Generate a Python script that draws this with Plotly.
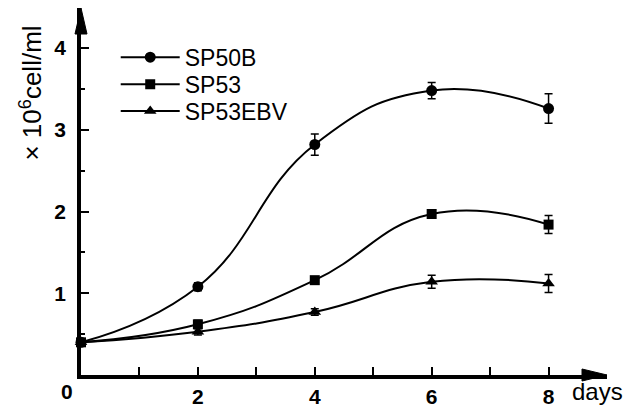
import plotly.graph_objects as go

days = [0, 2, 4, 6, 8]
sp50b = [0.40, 1.08, 2.82, 3.48, 3.26]
sp50b_err = [0.04, 0.05, 0.13, 0.10, 0.18]
sp53 = [0.40, 0.62, 1.16, 1.97, 1.84]
sp53_err = [0.04, 0.05, 0.04, 0.04, 0.11]
sp53ebv = [0.40, 0.53, 0.77, 1.14, 1.12]
sp53ebv_err = [0.04, 0.04, 0.04, 0.08, 0.11]

series = [
    ("SP50B", sp50b, sp50b_err, "circle", 11, "legend", 0.866),
    ("SP53", sp53, sp53_err, "square", 10, "legend2", 0.792),
    ("SP53EBV", sp53ebv, sp53ebv_err, "triangle-up", 11, "legend3", 0.719),
]

FONT = "Liberation Sans, Arial, sans-serif"

fig = go.Figure()
legends = {}
for name, vals, err, sym, size, leg, ly in series:
    fig.add_trace(go.Scatter(
        x=days, y=vals, name=name, mode="lines+markers",
        line=dict(color="black", width=2, shape="spline", smoothing=1.3),
        marker=dict(symbol=sym, size=size, color="black"),
        error_y=dict(type="data", array=err, visible=True, color="black",
                     thickness=1.5, width=4),
        cliponaxis=False, legend=leg,
    ))
    legends[leg] = dict(x=0.066, y=ly, xanchor="left", yanchor="middle",
                        bgcolor="rgba(0,0,0,0)", font=dict(size=23),
                        itemwidth=59, borderwidth=0)

fig.update_layout(
    width=627, height=414,
    margin=dict(l=81, r=20, t=8, b=39),
    paper_bgcolor="white", plot_bgcolor="white",
    font=dict(family=FONT, size=20, color="black"),
    showlegend=True,
    **legends,
)
fig.update_xaxes(
    range=[0, 9], showgrid=False, zeroline=False, automargin=False,
    showline=True, linecolor="black", linewidth=3.5,
    tickmode="array", tickvals=[2, 4, 6, 8], ticktext=["2", "4", "6", "8"],
    ticks="inside", ticklen=8, tickwidth=1.5, tickcolor="black",
    minor=dict(tickvals=[1, 3, 5, 7], ticks="inside", ticklen=8,
               tickwidth=1.5, tickcolor="black"),
    tickfont=dict(size=21, weight="bold"),
)
fig.update_yaxes(
    range=[0, 4.49], showgrid=False, zeroline=False, automargin=False,
    showline=True, linecolor="black", linewidth=3.5,
    tickmode="array", tickvals=[1, 2, 3, 4], ticktext=["1", "2", "3", "4"],
    ticks="inside", ticklen=8, tickwidth=1.5, tickcolor="black",
    minor=dict(tickvals=[0.5, 1.5, 2.5, 3.5], ticks="inside", ticklen=4,
               tickwidth=1.5, tickcolor="black"),
    tickfont=dict(size=21, weight="bold"), ticklabelstandoff=7,
)

# axis arrowheads (decorations, paper-anchored so they are not clipped)
fig.add_shape(type="path", xref="paper", yref="paper", xsizemode="pixel",
              ysizemode="pixel", xanchor=0, yanchor=1,
              path="M-6,-26 L0,0 L6,-26 Z", fillcolor="black",
              line=dict(color="black", width=1))
fig.add_shape(type="path", xref="paper", yref="paper", xsizemode="pixel",
              ysizemode="pixel", xanchor=1, yanchor=0,
              path="M-25,-6 L0,0 L-25,6 Z", fillcolor="black",
              line=dict(color="black", width=1))

fig.add_annotation(x=-0.027, y=-0.044, xref="paper", yref="paper", text="0",
                   xanchor="center", yanchor="middle",
                   showarrow=False, font=dict(size=21, weight="bold"))
fig.add_annotation(x=0.982, y=-0.044, xref="paper", yref="paper", text="days",
                   xanchor="center", yanchor="middle",
                   showarrow=False, font=dict(size=24))
fig.add_annotation(x=-0.095, y=0.767, xref="paper", yref="paper",
                   text="× 10<sup>6</sup>cell/ml", textangle=-90,
                   xanchor="center", yanchor="middle",
                   showarrow=False, font=dict(size=26))

fig.write_html("out.html", config={"displayModeBar": False},
               post_script="document.body.style.margin='0';")
